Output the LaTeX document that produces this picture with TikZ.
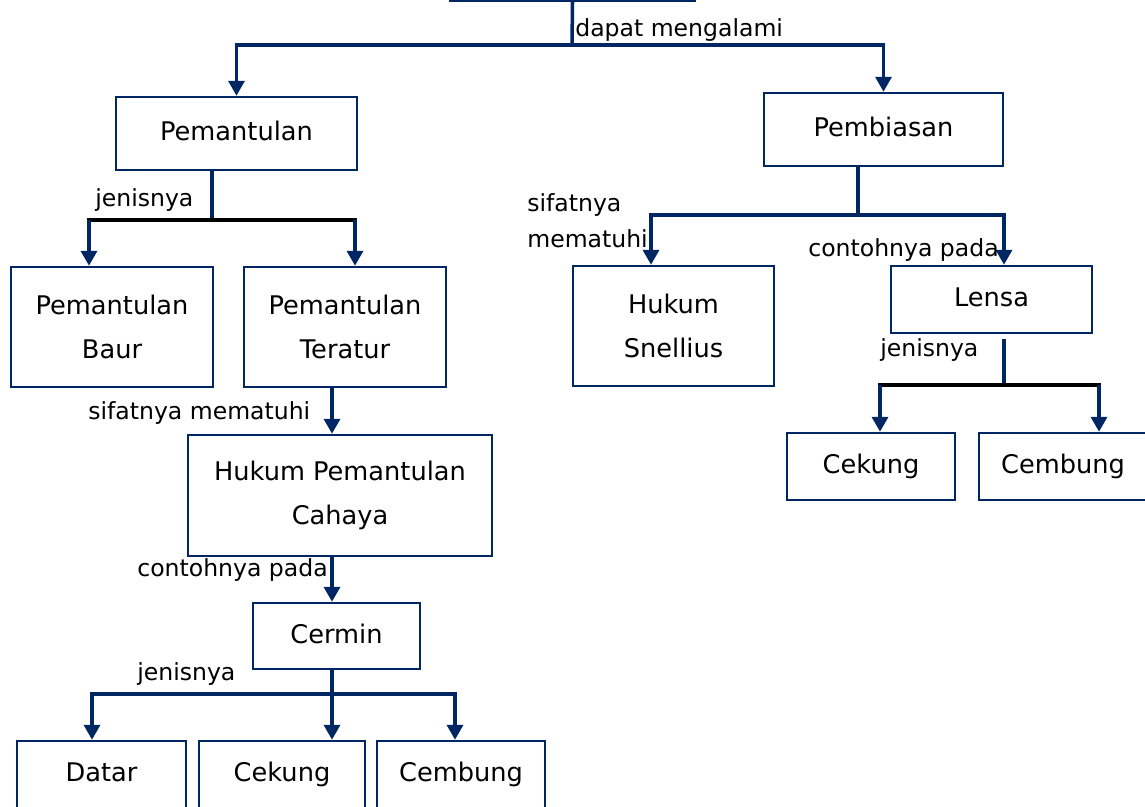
\documentclass[tikz,border=0pt]{standalone}
\usepackage{fontspec}
\setmainfont{DejaVu Sans}
\usepackage{xcolor}
\definecolor{navy}{RGB}{0,38,100}
\usepackage{tikz}
\usetikzlibrary{arrows.meta}

\begin{document}
\begin{tikzpicture}[x=0.02cm,y=-0.02cm,
  box/.style={draw=navy,line width=1.4pt,align=center,inner sep=0pt,
    font=\fontsize{14.6}{25}\selectfont},
  oneline/.style={text height=11pt,text depth=3pt},
  sz/.style 2 args={minimum width=#1*0.02cm,minimum height=#2*0.02cm},
  lbl/.style={anchor=base west,inner sep=0pt,align=left,
    font=\fontsize{13.4}{21}\selectfont},
  link/.style={navy,line width=2pt,line cap=rect},
  arr/.style={navy,line width=2pt,-{Triangle[length=0.3cm,width=0.32cm]}},
  bar/.style={black,line width=2pt,line cap=rect}]
\clip (0,0) rectangle (1145,807);
% boxes
\node[box,sz={245}{70}] (cahaya) at (572.5,-34) {};
\node[box,oneline,sz={241}{73}] (pemantulan) at (236.5,133.5) {Pemantulan};
\node[box,oneline,sz={239}{73}] (pembiasan) at (883.5,129.5) {Pembiasan};
\node[box,sz={202}{120}] (baur) at (112,327) {Pemantulan\\Baur};
\node[box,sz={202}{120}] (teratur) at (345,327) {Pemantulan\\Teratur};
\node[box,sz={304}{121}] (hukumpantul) at (340,495.5) {Hukum Pemantulan\\Cahaya};
\node[box,oneline,sz={167}{66}] (cermin) at (336.5,636) {Cermin};
\node[box,oneline,sz={169}{67}] (datar) at (101.5,774.5) {Datar};
\node[box,oneline,sz={166}{67}] (cekung1) at (282,774.5) {Cekung};
\node[box,oneline,sz={168}{67}] (cembung1) at (461,774.5) {Cembung};
\node[box,sz={201}{120}] (snellius) at (673.5,326) {Hukum\\Snellius};
\node[box,oneline,sz={201}{67}] (lensa) at (991.5,299.5) {Lensa};
\node[box,oneline,sz={168}{67}] (cekung2) at (871,466.5) {Cekung};
\node[box,oneline,sz={168}{67}] (cembung2) at (1063,466.5) {Cembung};

% cahaya -> pemantulan, pembiasan
\coordinate (t0) at (572,45);
\draw[link] (cahaya.south) -- (t0);
\draw[arr] (t0) -| (pemantulan.north);
\draw[arr] (t0) -| (pembiasan.north);
\node[lbl] (l1) at (575,37) {dapat mengalami};

% pemantulan -> baur, teratur
\coordinate (p0) at (212,220);
\coordinate (p1) at (89,220);
\coordinate (p2) at (355,220);
\draw[link] (p0 |- pemantulan.south) -- (p0);
\draw[bar] (p1) -- (p2);
\draw[arr] (p1) -- (p1 |- baur.north);
\draw[arr] (p2) -- (p2 |- teratur.north);
\node[lbl] (l2) at (95,207) {jenisnya};

% teratur -> hukum pemantulan -> cermin
\coordinate (q0) at (332,0);
\draw[arr] (q0 |- teratur.south) -- (q0 |- hukumpantul.north);
\draw[arr] (q0 |- hukumpantul.south) -- (q0 |- cermin.north);
\node[lbl] (l3) at (88,419) {sifatnya mematuhi};
\node[lbl] (l4) at (137,576) {contohnya pada};

% cermin -> datar, cekung, cembung
\coordinate (r0) at (332,694);
\coordinate (r1) at (92,694);
\coordinate (r2) at (455,694);
\draw[link] (r0 |- cermin.south) -- (r0);
\draw[link] (r1) -- (r2);
\draw[arr] (r1) -- (r1 |- datar.north);
\draw[arr] (r0) -- (r0 |- cekung1.north);
\draw[arr] (r2) -- (r2 |- cembung1.north);
\node[lbl] (l5) at (137,680) {jenisnya};

% pembiasan -> snellius, lensa
\coordinate (s0) at (858,215);
\coordinate (s1) at (651,215);
\coordinate (s2) at (1004,215);
\draw[link] (s0 |- pembiasan.south) -- (s0);
\draw[link] (s1) -- (s2);
\draw[arr] (s1) -- (s1 |- snellius.north);
\draw[arr] (s2) -- (s2 |- lensa.north);
\node[lbl] (l6) at (527,248) {sifatnya\\mematuhi};
\node[lbl] (l7) at (808,257) {contohnya pada};

% lensa -> cekung, cembung
\coordinate (u0) at (1004,385);
\coordinate (u1) at (880,385);
\coordinate (u2) at (1099,385);
\draw[link,shorten <=0.14cm] (u0 |- lensa.south) -- (u0);
\draw[bar] (u1) -- (u2);
\draw[arr] (u1) -- (u1 |- cekung2.north);
\draw[arr] (u2) -- (u2 |- cembung2.north);
\node[lbl] (l8) at (880,356) {jenisnya};
\end{tikzpicture}
\end{document}
